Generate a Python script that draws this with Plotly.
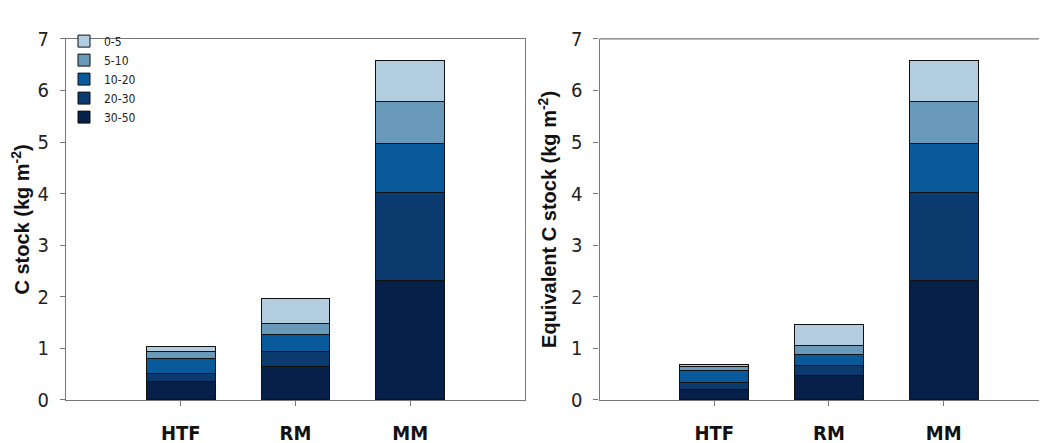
import plotly.graph_objects as go

sites = ["HTF", "RM", "MM"]
depths = ["30-50", "20-30", "10-20", "5-10", "0-5"]  # stacked bottom to top
colors = ["#06204a", "#0b3a6e", "#085a9a", "#6a9aba", "#b3cde0"]

# C stock (kg m-2) per depth layer, left panel
c_stock = {
    "30-50": [0.355, 0.65, 2.31],
    "20-30": [0.165, 0.29, 1.71],
    "10-20": [0.275, 0.32, 0.96],
    "5-10":  [0.135, 0.23, 0.80],
    "0-5":   [0.11, 0.47, 0.81],
}
# Equivalent C stock (kg m-2) per depth layer, right panel
eq_c_stock = {
    "30-50": [0.21, 0.47, 2.31],
    "20-30": [0.135, 0.20, 1.71],
    "10-20": [0.235, 0.22, 0.96],
    "5-10":  [0.06, 0.175, 0.80],
    "0-5":   [0.045, 0.40, 0.81],
}

yticks = [0, 1, 2, 3, 4, 5, 6, 7]

fig = go.Figure()
for d, col in zip(depths, colors):
    fig.add_trace(go.Bar(x=sites, y=c_stock[d], name=d, marker_color=col,
                         marker_line=dict(color="#111111", width=1),
                         xaxis="x", yaxis="y", legendgroup=d))
    fig.add_trace(go.Bar(x=sites, y=eq_c_stock[d], name=d, marker_color=col,
                         marker_line=dict(color="#111111", width=1),
                         xaxis="x2", yaxis="y2", legendgroup=d, showlegend=False))

ydom = [(443 - 401.7) / 443, (443 - 20) / 443]
narrow = "DejaVu Sans Condensed, Liberation Sans Narrow, sans-serif"
tickfont = dict(family=narrow, size=20, color="#222")
xfont = dict(family=narrow, size=20, color="#111", weight="bold")
axline = dict(showline=True, linecolor="#777", linewidth=1.2, showgrid=False, zeroline=False,
              ticks="outside", ticklen=5, tickcolor="#777")
titlefont = dict(family="Liberation Sans, Arial, sans-serif", size=20, color="#111")

fig.update_layout(
    barmode="stack",
    bargap=0.4,
    width=1047, height=443,
    margin=dict(l=0, r=0, t=0, b=0),
    paper_bgcolor="white", plot_bgcolor="white",
    xaxis=dict(domain=[58 / 1047, 517 / 1047], range=[-1, 3], mirror=True,
               tickfont=xfont, ticklabelstandoff=10, anchor="y", **axline),
    yaxis=dict(domain=ydom, range=[0, 7], tickvals=yticks, mirror=True, tickfont=tickfont,
               anchor="x", ticklabelstandoff=7,
               title=dict(text="<b>C stock (kg m<sup>-2</sup>)</b>", standoff=8, font=titlefont),
               **axline),
    xaxis2=dict(domain=[591.5 / 1047, 1.0], range=[-1, 2.97], tickfont=xfont,
                ticklabelstandoff=10, anchor="y2", **axline),
    yaxis2=dict(domain=ydom, range=[0, 7], tickvals=yticks, tickfont=tickfont, anchor="x2",
                ticklabelstandoff=7,
                title=dict(text="<b>Equivalent C stock (kg m<sup>-2</sup>)</b>", standoff=8,
                           font=titlefont),
                **axline),
    legend=dict(x=56 / 1047, y=1 - 7 / 443, xanchor="left", yanchor="top",
                traceorder="reversed", bgcolor="rgba(0,0,0,0)",
                font=dict(family=narrow, size=12, color="#222"),
                tracegroupgap=0, itemwidth=30),
    showlegend=True,
)
fig.add_shape(type="line", xref="x2 domain", yref="y2 domain", x0=0, x1=1, y0=1, y1=1,
              line=dict(color="#777", width=1.2))

fig.write_html("out.html")
